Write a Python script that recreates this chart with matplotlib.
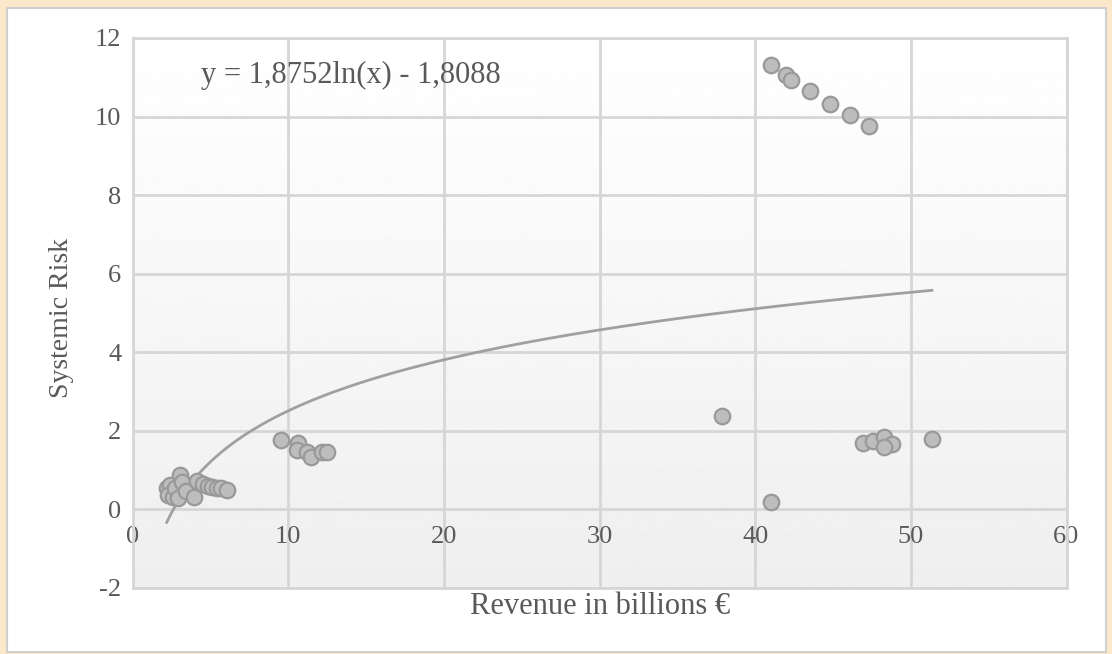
import numpy as np
import matplotlib
matplotlib.use("Agg")
import matplotlib.pyplot as plt
from matplotlib.patches import Rectangle

plt.rcParams["font.family"] = ["Liberation Serif", "DejaVu Serif"]
plt.rcParams["axes.unicode_minus"] = False

# ── 데이터 ───────────────────────────────────────────────────────────────────
revenue = [
    2.20, 2.41, 2.28, 2.60, 2.73, 3.05, 3.18, 2.92, 3.44, 3.95, 4.14,
    4.53, 4.85, 5.11, 5.43, 5.68, 6.07,
    9.54, 10.61, 10.55, 11.19, 11.46, 12.15, 12.51,
    37.9, 41.0,
    41.04, 42.0, 42.3, 43.55, 44.8, 46.1, 47.3,
    46.9, 47.6, 48.3, 48.8, 48.3, 51.35,
]
systemic_risk = [
    0.54, 0.62, 0.37, 0.32, 0.54, 0.88, 0.70, 0.29, 0.47, 0.32, 0.72,
    0.65, 0.60, 0.57, 0.54, 0.54, 0.49,
    1.78, 1.70, 1.51, 1.47, 1.34, 1.47, 1.47,
    2.38, 0.19,
    11.32, 11.07, 10.94, 10.64, 10.33, 10.05, 9.77,
    1.69, 1.74, 1.84, 1.66, 1.59, 1.79,
]
trend_a = 1.8752
trend_b = -1.8088

x_ticks = [0, 10, 20, 30, 40, 50, 60]
y_ticks = [-2, 0, 2, 4, 6, 8, 10, 12]

# ── 그림 ─────────────────────────────────────────────────────────────────────
fig = plt.figure(figsize=(11.12, 6.54), dpi=100)
fig.patch.set_facecolor("#fbe8cb")

# 흰색 패널 (베이지 테두리 안쪽)
bg = fig.add_axes([0, 0, 1, 1], zorder=-10)
bg.set_xlim(0, 1112)
bg.set_ylim(654, 0)
bg.axis("off")
bg.add_patch(Rectangle((7, 8), 1099, 644, facecolor="white",
                       edgecolor="#d0d0d0", linewidth=1.5))

ax = fig.add_axes([132.5 / 1112, 1 - 588 / 654, 934 / 1112, 550 / 654])

# 위에서 아래로 옅어지는 회색 배경
grad = np.linspace(1.0, 0.935, 256).reshape(-1, 1)
ax.imshow(grad, extent=(0, 1, 0, 1), transform=ax.transAxes, cmap="gray",
          vmin=0, vmax=1, aspect="auto", zorder=0)
ax.set_xlim(0, 60)
ax.set_ylim(-2, 12)

grid_c = "#d6d6d6"
ax.set_xticks(x_ticks)
ax.set_yticks(y_ticks)
ax.grid(True, color=grid_c, linewidth=2)
ax.set_axisbelow(True)
for side in ["left", "right", "top"]:
    ax.spines[side].set_color(grid_c)
    ax.spines[side].set_linewidth(2)
ax.spines["bottom"].set_position(("data", 0))
ax.spines["bottom"].set_visible(False)
ax.plot([0, 60], [-2, -2], color=grid_c, linewidth=2, clip_on=False, zorder=1)

ax.tick_params(axis="both", length=0, labelsize=19, colors="#595959")
ax.tick_params(axis="x", pad=12)
ax.tick_params(axis="y", pad=8)

# 추세선
xs = np.linspace(min(revenue), max(revenue), 300)
ax.plot(xs, trend_a * np.log(xs) + trend_b, color="#a0a0a0", linewidth=2, zorder=2)

ax.scatter(revenue, systemic_risk, s=125, facecolor="#bdbdbd",
           edgecolor="#999999", linewidth=1.6, zorder=3)

ax.text(4.4, 11.05, "y = 1,8752ln(x) - 1,8088", fontsize=22, color="#595959",
        va="center", ha="left", zorder=4)

fig.text(600 / 1112, 1 - 606 / 654, "Revenue in billions €", fontsize=22,
         color="#595959", ha="center", va="center")
fig.text(62 / 1112, 1 - 318 / 654, "Systemic Risk", fontsize=20,
         color="#595959", ha="center", va="center", rotation=90)

fig.savefig("out.png", dpi=100, facecolor=fig.get_facecolor())
